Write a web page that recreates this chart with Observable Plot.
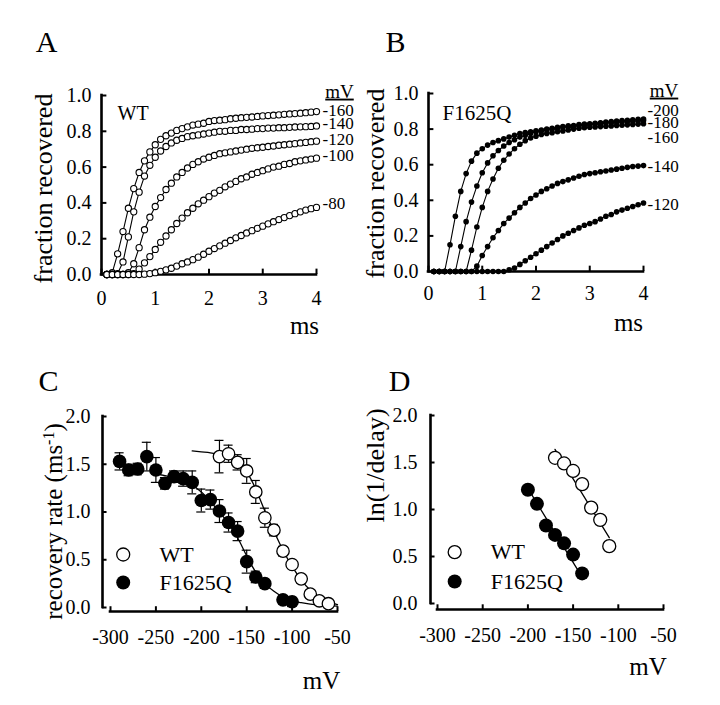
<!DOCTYPE html>
<html><head><meta charset="utf-8">
<script src="https://cdn.jsdelivr.net/npm/d3@7"></script>
<script src="https://cdn.jsdelivr.net/npm/@observablehq/plot@0.6"></script>
<style>
body{margin:0;background:#fff;}
#fig{position:relative;width:720px;height:705px;background:#fff;}
</style></head><body><div id="fig"></div>
<script>
// ---------------- DATA ----------------
const times = [0.1,0.2,0.3,0.4,0.5,0.6,0.7,0.8,0.9,1.0,1.1,1.2,1.3,1.4,1.5,1.6,1.7,1.8,1.9,2.0,
               2.1,2.2,2.3,2.4,2.5,2.6,2.7,2.8,2.9,3.0,3.1,3.2,3.3,3.4,3.5,3.6,3.7,3.8,3.9,4.0];

// Panel A: WT fraction recovered
const voltsA = [-160,-140,-120,-100,-80];
const a160 = [0.00,0.01,0.115,0.24,0.37,0.48,0.57,0.635,0.685,0.725, 0.755,0.775,0.79,0.805,0.815,0.825,0.835,0.84,0.845,0.855,
              0.86,0.862,0.865,0.87,0.873,0.876,0.878,0.88,0.883,0.886, 0.888,0.89,0.892,0.895,0.897,0.899,0.901,0.904,0.907,0.91];
const a140 = [0,0,0.005,0.07,0.21,0.35,0.46,0.55,0.61,0.655, 0.69,0.715,0.735,0.75,0.76,0.77,0.775,0.78,0.785,0.79,
              0.795,0.80,0.80,0.805,0.805,0.81,0.81,0.812,0.815,0.815, 0.818,0.818,0.82,0.82,0.822,0.824,0.825,0.826,0.827,0.83];
const a120 = [0,0,0,0,0.01,0.06,0.15,0.25,0.32,0.38, 0.43,0.475,0.51,0.545,0.57,0.595,0.615,0.63,0.645,0.655,
              0.665,0.675,0.68,0.685,0.69,0.695,0.70,0.705,0.708,0.711, 0.715,0.718,0.722,0.725,0.728,0.731,0.735,0.738,0.742,0.745];
const a100 = [0,0,0,0,0,0.005,0.03,0.065,0.10,0.14, 0.18,0.215,0.25,0.285,0.315,0.345,0.37,0.395,0.415,0.435,
              0.455,0.47,0.49,0.505,0.52,0.535,0.545,0.56,0.57,0.58, 0.59,0.60,0.605,0.615,0.62,0.63,0.635,0.64,0.645,0.65];
const a80  = [0,0,0,0,0,0,0,0.002,0.005,0.01, 0.018,0.026,0.035,0.047,0.06,0.07,0.083,0.097,0.113,0.13,
              0.145,0.16,0.175,0.19,0.205,0.218,0.232,0.245,0.258,0.27, 0.283,0.295,0.307,0.318,0.329,0.34,0.35,0.36,0.368,0.375];
const labelYA = [0.915,0.842,0.754,0.665,0.395];

// Panel B: F1625Q fraction recovered
const voltsB = [-200,-180,-160,-140,-120];
const b200 = [0,0,0,0.15,0.31,0.45,0.55,0.62,0.665,0.69, 0.71,0.725,0.735,0.745,0.755,0.765,0.775,0.78,0.785,0.79,
              0.795,0.80,0.805,0.81,0.815,0.818,0.82,0.825,0.828,0.83, 0.833,0.836,0.84,0.842,0.845,0.848,0.85,0.852,0.855,0.857];
const b180 = [0,0,0,0,0,0.14,0.28,0.39,0.48,0.555, 0.61,0.65,0.68,0.705,0.725,0.74,0.755,0.765,0.775,0.785,
              0.79,0.795,0.80,0.805,0.81,0.813,0.816,0.82,0.823,0.826, 0.829,0.832,0.834,0.836,0.838,0.84,0.842,0.844,0.846,0.848];
const b160 = [0,0,0,0,0,0,0,0.12,0.25,0.36, 0.45,0.52,0.58,0.625,0.66,0.69,0.715,0.735,0.75,0.76,
              0.77,0.775,0.78,0.785,0.79,0.795,0.80,0.805,0.808,0.81, 0.812,0.814,0.816,0.818,0.82,0.822,0.824,0.826,0.828,0.83];
const b140 = [0,0,0,0,0,0,0,0,0.03,0.09, 0.14,0.19,0.23,0.27,0.30,0.33,0.36,0.385,0.41,0.43,
              0.45,0.465,0.48,0.495,0.505,0.515,0.525,0.535,0.545,0.55, 0.555,0.56,0.565,0.57,0.575,0.58,0.585,0.59,0.592,0.595];
const b120 = [0,0,0,0,0,0,0,0,0,0, 0,0,0,0,0.01,0.02,0.04,0.06,0.08,0.10,
              0.12,0.14,0.16,0.18,0.20,0.215,0.23,0.245,0.26,0.27, 0.28,0.295,0.31,0.32,0.335,0.345,0.355,0.365,0.375,0.385];
const labelYB = [0.904,0.839,0.751,0.59,0.376];

// Panel C: recovery rate vs voltage
const wtV    = [-180,-170,-160,-150,-140,-130,-120,-110,-100,-90,-80,-70,-60];
const wtRate = [1.58,1.61,1.52,1.43,1.21,0.94,0.81,0.59,0.45,0.30,0.14,0.07,0.04];
const wtErr  = [0.17,0.09,0.08,0.13,0.12,0.10,0.06,0.05,0.04,0.04,0.03,0.02,0.02];
const fV     = [-290,-280,-270,-260,-250,-240,-230,-220,-210,-200,-190,-180,-170,-160,-150,-140,-130,-110,-100];
const fRate  = [1.53,1.44,1.45,1.58,1.44,1.30,1.37,1.35,1.31,1.12,1.13,1.01,0.89,0.80,0.48,0.32,0.25,0.08,0.06];
const fErr   = [0.09,0.06,0.06,0.15,0.13,0.06,0.06,0.08,0.12,0.12,0.10,0.12,0.10,0.10,0.12,0.06,0.05,0.03,0.05];
const wtFitV = [-210,-200,-190,-180,-170,-160,-150,-140,-130,-120,-110,-100,-90,-80,-70,-60,-50];
const wtFitR = [1.64,1.63,1.62,1.60,1.57,1.52,1.42,1.24,1.01,0.80,0.60,0.43,0.29,0.18,0.10,0.06,0.03];
const fFitV  = [-250,-240,-230,-220,-210,-200,-190,-180,-170,-160,-150,-140,-130,-120,-110,-100,-90,-80,-70,-60,-50];
const fFitR  = [1.40,1.38,1.36,1.33,1.28,1.21,1.11,1.00,0.88,0.73,0.54,0.37,0.25,0.17,0.11,0.07,0.05,0.035,0.025,0.02,0.015];

// Panel D: ln(1/delay) vs voltage
const dWtV = [-170,-160,-150,-140,-130,-120,-110];
const dWt  = [1.55,1.49,1.41,1.27,1.02,0.89,0.61];
const dFV  = [-200,-190,-180,-170,-160,-150,-140];
const dF   = [1.21,1.06,0.83,0.73,0.64,0.52,0.32];
const dWtFitV = [-170,-110], dWtFitY = [1.64,0.70];
const dFFitV  = [-201,-140], dFFitY  = [1.24,0.28];

// legend
const legendNames = ["WT","F1625Q"];

// tick labels
const ticksMs = [0,1,2,3,4];
const ticksFrac = [0,0.2,0.4,0.6,0.8,1.0];
const ticksMV = [-300,-250,-200,-150,-100,-50];
const ticksRate = [0,0.5,1.0,1.5,2.0];

// ---------------- HELPERS ----------------
const FONT = '"Liberation Serif","Times New Roman",Times,serif';
const fmt1 = d3.format(".1f");
const T = (data, o) => Plot.text(data, {fontFamily: FONT, fill: "black", ...o});
// free-standing annotation text, centred on its anchor point
const A = (str, o) => T([str], {text: d => d, textAnchor: "middle", lineAnchor: "middle", ...o});

function toRows(volts, series) {
  const rows = [];
  volts.forEach((v, i) => series[i].forEach((val, j) => rows.push({t: times[j], v: val, s: v})));
  return rows;
}
function axes({xLo, xHi, yLo, yHi, xTicks, yTicks, xTickLen, yTickLen, yAxisDx = 0, xAxisDy = 0, xLabelDy, yLabelDx, yFmt}) {
  const sw = 2.6;
  return [
    Plot.ruleX([xLo], {x: d => d, y1: yLo, y2: yHi, dx: yAxisDx, stroke: "black", strokeWidth: sw, strokeLinecap: "square"}),
    Plot.ruleY([yLo], {y: d => d, x1: xLo, x2: xHi, dy: xAxisDy, stroke: "black", strokeWidth: sw, strokeLinecap: "square"}),
    Plot.ruleY(yTicks, {y: d => d, x1: xLo, x2: xLo + yTickLen, dx: yAxisDx, stroke: "black", strokeWidth: 2}),
    Plot.ruleX(xTicks, {x: d => d, y1: yLo, y2: yLo + xTickLen, dy: xAxisDy, stroke: "black", strokeWidth: 2}),
    T(yTicks, {x: xLo, y: d => d, text: yFmt, textAnchor: "end", dx: yLabelDx, fontSize: 20}),
    T(xTicks, {x: d => d, y: yLo, text: d => String(d), dy: xLabelDy, fontSize: 20})
  ];
}
const fig = document.getElementById("fig");
function place(node, left, top) {
  const d = document.createElement("div");
  d.style.cssText = `position:absolute;left:${left}px;top:${top}px;`;
  d.appendChild(node);
  fig.appendChild(d);
}
const baseStyle = {fontFamily: FONT, background: "transparent", overflow: "visible"};

// ---------------- PANEL A ----------------
const rowsA = toRows(voltsA, [a160, a140, a120, a100, a80]);
const plotA = Plot.plot({
  width: 360, height: 350, marginLeft: 101, marginRight: 44, marginTop: 95, marginBottom: 76,
  x: {domain: [0, 4], axis: null}, y: {domain: [0, 1], axis: null},
  style: baseStyle,
  marks: [
    ...axes({xLo: 0, xHi: 4, yLo: 0, yHi: 1, xTicks: ticksMs, yTicks: ticksFrac, xTickLen: 0.03, yTickLen: 0.1,
             xLabelDy: 24, yLabelDx: -10, yFmt: fmt1}),
    Plot.line(rowsA, {x: "t", y: "v", z: "s", stroke: "black", strokeWidth: 1.1}),
    Plot.dot(rowsA, {x: "t", y: "v", r: 3.1, fill: "white", stroke: "black", strokeWidth: 1.1}),
    T(voltsA, {x: () => 4, y: (d, i) => labelYA[i], text: d => String(d), dx: 6, textAnchor: "start", fontSize: 17}),
    A("A", {frameAnchor: "top-left", dx: -55, dy: -53, fontSize: 30}),
    A("WT", {frameAnchor: "top-left", dx: 16, dy: 18, textAnchor: "start", fontSize: 20}),
    A("fraction recovered", {frameAnchor: "left", dx: -58, dy: 3.5, rotate: -90, fontSize: 26}),
    A("ms", {frameAnchor: "bottom-right", dx: -12, dy: 51, fontSize: 25}),
    A("mV", {frameAnchor: "top-right", dx: 23, dy: -4, fontSize: 19})
  ]
});
place(plotA, 0, 0);

// ---------------- PANEL B ----------------
const rowsB = toRows(voltsB, [b200, b180, b160, b140, b120]);
const plotB = Plot.plot({
  width: 360, height: 350, marginLeft: 68, marginRight: 77, marginTop: 93, marginBottom: 79,
  x: {domain: [0, 4], axis: null}, y: {domain: [0, 1], axis: null},
  style: baseStyle,
  marks: [
    ...axes({xLo: 0, xHi: 4, yLo: 0, yHi: 1, xTicks: ticksMs, yTicks: ticksFrac, xTickLen: 0.03, yTickLen: 0.1,
             xLabelDy: 22, yLabelDx: -10, yFmt: fmt1}),
    Plot.line(rowsB, {x: "t", y: "v", z: "s", stroke: "black", strokeWidth: 1.1}),
    Plot.dot(rowsB, {x: "t", y: "v", r: 2.8, fill: "black", stroke: "none"}),
    T(voltsB, {x: () => 4, y: (d, i) => labelYB[i], text: d => String(d), dx: 4, textAnchor: "start", fontSize: 17}),
    A("B", {frameAnchor: "top-left", dx: -33, dy: -51, fontSize: 30}),
    A("F1625Q", {frameAnchor: "top-left", dx: 14, dy: 20, textAnchor: "start", fontSize: 21}),
    A("fraction recovered", {frameAnchor: "left", dx: -53, dy: 1, rotate: -90, fontSize: 26}),
    A("ms", {frameAnchor: "bottom-right", dx: -15, dy: 51, fontSize: 25}),
    A("mV", {frameAnchor: "top-right", dx: 20.5, dy: -3, fontSize: 19})
  ]
});
place(plotB, 360, 0);

// ---------------- PANEL C ----------------
const wtRows = wtV.map((v, i) => ({v, r: wtRate[i], e: wtErr[i]}));
const fRows = fV.map((v, i) => ({v, r: fRate[i], e: fErr[i]}));
const wtFit = wtFitV.map((v, i) => ({v, r: wtFitR[i]}));
const fFit = fFitV.map((v, i) => ({v, r: fFitR[i]}));
const legendYC = [0.555, 0.262];
const errMarks = (rows) => [
  Plot.ruleX(rows, {x: "v", y1: d => d.r - d.e, y2: d => d.r + d.e, stroke: "black", strokeWidth: 1.2}),
  Plot.ruleY(rows, {y: d => d.r + d.e, x1: d => d.v - 5, x2: d => d.v + 5, stroke: "black", strokeWidth: 1.2}),
  Plot.ruleY(rows, {y: d => d.r - d.e, x1: d => d.v - 5, x2: d => d.v + 5, stroke: "black", strokeWidth: 1.2})
];
const plotC = Plot.plot({
  width: 360, height: 355, marginLeft: 110, marginRight: 23, marginTop: 66, marginBottom: 98,
  x: {domain: [-300, -50], axis: null}, y: {domain: [0, 2], axis: null},
  style: baseStyle,
  marks: [
    ...axes({xLo: -300, xHi: -50, yLo: 0, yHi: 2, xTicks: ticksMV, yTicks: ticksRate, xTickLen: 0.05, yTickLen: 5,
             yAxisDx: -8, xAxisDy: 4, xLabelDy: 30, yLabelDx: -20, yFmt: fmt1}),
    Plot.line(fFit, {x: "v", y: "r", stroke: "black", strokeWidth: 1.3, curve: "monotone-x"}),
    Plot.line(wtFit, {x: "v", y: "r", stroke: "black", strokeWidth: 1.3, curve: "monotone-x"}),
    ...errMarks(fRows),
    Plot.dot(fRows, {x: "v", y: "r", r: 6.8, fill: "black", stroke: "none"}),
    ...errMarks(wtRows),
    Plot.dot(wtRows, {x: "v", y: "r", r: 6.2, fill: "white", stroke: "black", strokeWidth: 1.3}),
    Plot.dot(legendNames.slice(0, 1), {x: () => -286, y: () => legendYC[0], r: 6.5, fill: "white", stroke: "black", strokeWidth: 1.3}),
    Plot.dot(legendNames.slice(1), {x: () => -286, y: () => legendYC[1], r: 7, fill: "black", stroke: "none"}),
    T(legendNames, {x: () => -246, y: (d, i) => legendYC[i], text: d => d, textAnchor: "start", fontSize: 22}),
    A("C", {frameAnchor: "top-left", dx: -62, dy: -35, fontSize: 30}),
    A("recovery rate (ms-1)", {frameAnchor: "left", dx: -57, dy: 9.5, rotate: -90, fontSize: 25}),
    A("mV", {frameAnchor: "bottom-right", dx: -16, dy: 73, fontSize: 25})
  ]
});
place(plotC, 0, 350);

// ---------------- PANEL D ----------------
const dWtRows = dWtV.map((v, i) => ({v, y: dWt[i]}));
const dFRows = dFV.map((v, i) => ({v, y: dF[i]}));
const dWtFit = dWtFitV.map((v, i) => ({v, y: dWtFitY[i]}));
const dFFit = dFFitV.map((v, i) => ({v, y: dFFitY[i]}));
const legendYD = [0.546, 0.234];
const plotD = Plot.plot({
  width: 360, height: 355, marginLeft: 77, marginRight: 57, marginTop: 65, marginBottom: 102,
  x: {domain: [-300, -50], axis: null}, y: {domain: [0, 2], axis: null},
  style: baseStyle,
  marks: [
    ...axes({xLo: -300, xHi: -50, yLo: 0, yHi: 2, xTicks: ticksMV, yTicks: ticksRate, xTickLen: 0.05, yTickLen: 5,
             yAxisDx: -7, xAxisDy: 6, xLabelDy: 32, yLabelDx: -20, yFmt: fmt1}),
    Plot.line(dWtFit, {x: "v", y: "y", stroke: "black", strokeWidth: 1.3}),
    Plot.line(dFFit, {x: "v", y: "y", stroke: "black", strokeWidth: 1.3}),
    Plot.dot(dFRows, {x: "v", y: "y", r: 7, fill: "black", stroke: "none"}),
    Plot.dot(dWtRows, {x: "v", y: "y", r: 6.5, fill: "white", stroke: "black", strokeWidth: 1.3}),
    Plot.dot(legendNames.slice(0, 1), {x: () => -281, y: () => legendYD[0], r: 6.5, fill: "white", stroke: "black", strokeWidth: 1.3}),
    Plot.dot(legendNames.slice(1), {x: () => -281, y: () => legendYD[1], r: 7, fill: "black", stroke: "none"}),
    T(legendNames, {x: () => -241, y: (d, i) => legendYD[i], text: d => d, textAnchor: "start", fontSize: 22}),
    A("D", {frameAnchor: "top-left", dx: -38, dy: -34, fontSize: 30}),
    A("ln(1/delay)", {frameAnchor: "left", dx: -62, dy: -44, rotate: -90, fontSize: 26}),
    A("mV", {frameAnchor: "bottom-right", dx: -15.5, dy: 63, fontSize: 25})
  ]
});
place(plotD, 360, 350);

// ---------------- TEXT DETAILS ----------------
[plotA, plotB].forEach(svg => svg.querySelectorAll("text").forEach(t => {
  if (t.textContent === "mV") t.style.textDecoration = "underline";
}));
plotC.querySelectorAll("text").forEach(t => {
  if (t.textContent === "recovery rate (ms-1)") {
    t.textContent = "recovery rate (ms";
    const sup = document.createElementNS("http://www.w3.org/2000/svg", "tspan");
    sup.setAttribute("baseline-shift", "super");
    sup.setAttribute("font-size", "16");
    sup.textContent = "-1";
    t.appendChild(sup);
    const close = document.createElementNS("http://www.w3.org/2000/svg", "tspan");
    close.setAttribute("baseline-shift", "0");
    close.textContent = ")";
    t.appendChild(close);
  }
});
</script>
</body></html>
